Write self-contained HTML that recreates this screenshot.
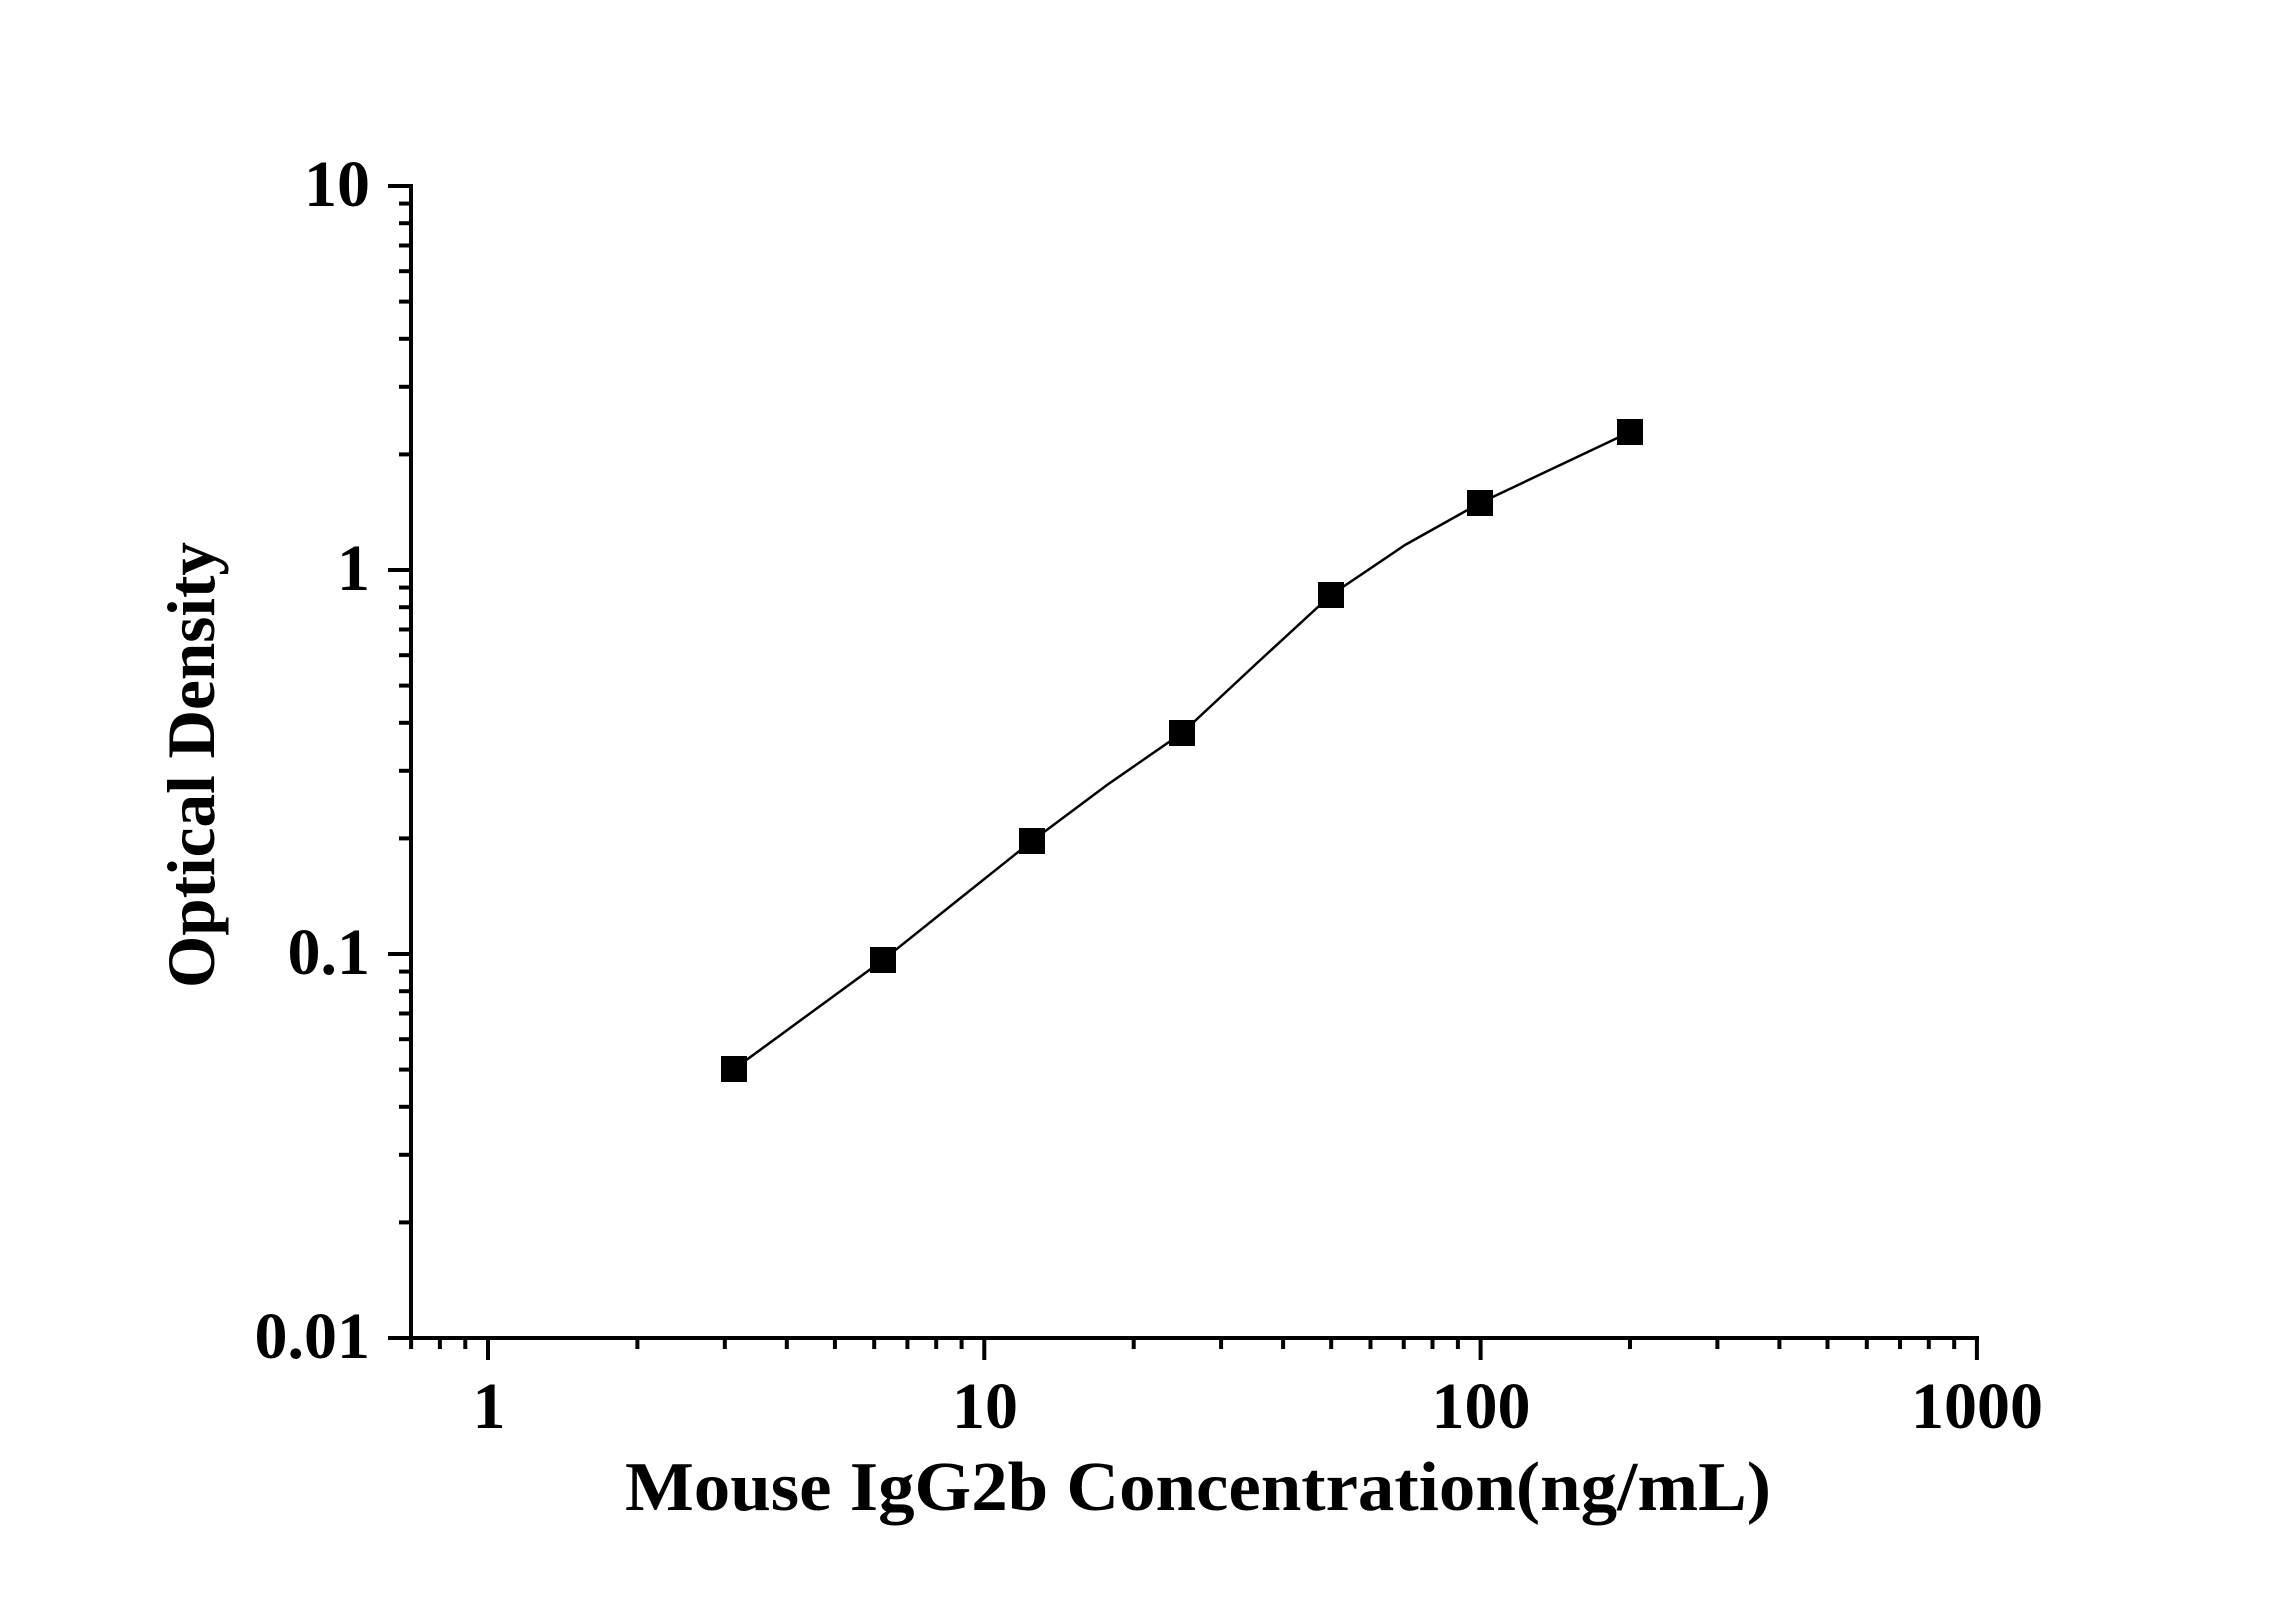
<!DOCTYPE html>
<html><head><meta charset="utf-8"><style>html,body{margin:0;padding:0;background:#fff}</style></head>
<body>
<svg id="s" width="2296" height="1604" xmlns="http://www.w3.org/2000/svg" font-family="Liberation Serif, serif" font-weight="bold">
<rect width="2296" height="1604" fill="#fff"/>
<g id="ax" stroke="#000" stroke-width="4" fill="none"></g>
<polyline points="734,1069 883,960 958,900 1032,841 1107,785 1182,733 1256,664 1331,595 1405,545 1480,503 1630,432" fill="none" stroke="#000" stroke-width="2.5"/>
<g id="mk" fill="#000"></g>
<g font-size="66" fill="#000" text-anchor="end">
<text x="370" y="206">10</text>
<text x="370" y="590">1</text>
<text x="370" y="974">0.1</text>
<text x="370" y="1358">0.01</text>
</g>
<g font-size="66" fill="#000" text-anchor="middle">
<text x="489" y="1428">1</text>
<text x="985" y="1428">10</text>
<text x="1481" y="1428">100</text>
<text x="1977" y="1428">1000</text>
</g>
<text x="1198" y="1510" font-size="70" text-anchor="middle" textLength="1146" lengthAdjust="spacingAndGlyphs">Mouse IgG2b Concentration(ng/mL)</text>
<text transform="translate(214,765) rotate(-90)" font-size="68" text-anchor="middle" textLength="446" lengthAdjust="spacingAndGlyphs">Optical Density</text>
</svg>
<script>
var ax=document.getElementById('ax'),mk=document.getElementById('mk'),ns='http://www.w3.org/2000/svg';
function L(x1,y1,x2,y2){var l=document.createElementNS(ns,'line');l.setAttribute('x1',x1);l.setAttribute('y1',y1);l.setAttribute('x2',x2);l.setAttribute('y2',y2);ax.appendChild(l);}
var X0=411,Y0=1338,x1=488,dx=496.3,yTop=186,dy=384;
L(X0,yTop-2,X0,Y0+2);L(X0-2,Y0,1979,Y0);
for(var d=0;d<3;d++){for(var m=1;m<10;m++){var y=Y0-(d+Math.log10(m))*dy;L(X0-(m==1?23:12),y,X0,y);}}
L(X0-23,yTop,X0,yTop);
for(var m=7;m<10;m++){var x=x1+Math.log10(m/10)*dx;L(x,Y0,x,Y0+11);}
for(var d=0;d<3;d++){for(var m=1;m<10;m++){var x=x1+(d+Math.log10(m))*dx;L(x,Y0,x,Y0+(m==1?22:11));}}
L(x1+3*dx,Y0,x1+3*dx,Y0+22);
[[734,1069],[883,960],[1032,841],[1182,733],[1331,595],[1480,503],[1630,432]].forEach(function(p){var r=document.createElementNS(ns,'rect');r.setAttribute('x',p[0]-13);r.setAttribute('y',p[1]-13);r.setAttribute('width',26);r.setAttribute('height',26);mk.appendChild(r);});
</script>
</body></html>
